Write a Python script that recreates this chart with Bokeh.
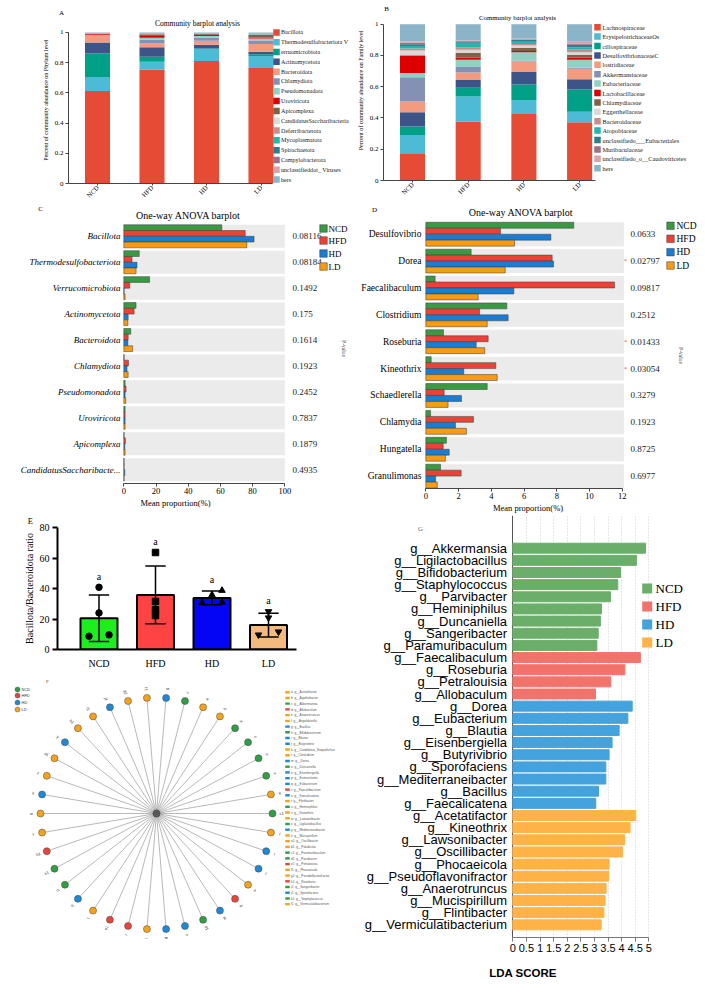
import math
from bokeh.plotting import figure
from bokeh.layouts import column, row
from bokeh.models import (Range1d, FixedTicker, Grid, ColumnDataSource, CustomJSTickFormatter)
from bokeh.core.properties import value
from bokeh.embed import file_html
from bokeh.resources import INLINE

SERIF = "Liberation Serif"
SANS = "Liberation Sans"

groups = ["NCD", "HFD", "HD", "LD"]

# ---------------- Panel A: phylum level composition ----------------
phylum_labels = ["Bacillota", "Thermodesulfobacteriota V", "erruomicrobiota", "Actinomycetota",
                 "Bacteroidota", "Chlamydiota", "Pseudomonadota", "Uroviricota", "Apicomplexa",
                 "CandidatusSaccharibacteria", "Deferribacterota", "Mycoplasmatota", "Spirochaetota",
                 "Campylobacterota", "unclassifieddot_ Viruses", "hers"]
phylum_ncd = [0.612, 0.093, 0.156, 0.073, 0.048, 0.002, 0.001, 0.004, 0.000, 0.001, 0.001, 0.000, 0.001, 0.000, 0.001, 0.007]
phylum_hfd = [0.755, 0.051, 0.033, 0.062, 0.026, 0.025, 0.013, 0.011, 0.011, 0.002, 0.002, 0.001, 0.001, 0.001, 0.001, 0.005]
phylum_hd = [0.811, 0.079, 0.004, 0.024, 0.027, 0.022, 0.009, 0.009, 0.004, 0.001, 0.001, 0.001, 0.001, 0.001, 0.001, 0.005]
phylum_ld = [0.764, 0.080, 0.011, 0.017, 0.051, 0.024, 0.013, 0.007, 0.015, 0.002, 0.002, 0.002, 0.001, 0.001, 0.001, 0.009]
phylum_colors = ["#E64B35", "#4DBBD5", "#00A087", "#3C5488", "#F39B7F", "#8491B4", "#91D1C2", "#DC0000",
                 "#7E6148", "#D9D9D9", "#C5908C", "#26B5AD", "#2E7D8C", "#9B7086", "#D8A3AA", "#8CB4C9"]

# ---------------- Panel B: family level composition ----------------
family_labels = ["Lachnospiraceae", "ErysipelotrichaceaeOs", "cillospiraceae", "DesulfovibrionaceaeC",
                 "lostridiaceae", "Akkermansiaceae", "Eubacteriaceae", "Lactobacillaceae", "Chlamydiaceae",
                 "Eggerthellaceae", "Bacteroidaceae", "Atopobiaceae", "unclassifiedo___Eubacteriales",
                 "Muribaculaceae", "unclassifiedo_o__Caudoviricetes", "hers"]
family_ncd = [0.174, 0.117, 0.054, 0.091, 0.070, 0.154, 0.027, 0.113, 0.002, 0.030, 0.013, 0.015, 0.012, 0.009, 0.010, 0.109]
family_hfd = [0.377, 0.161, 0.056, 0.049, 0.048, 0.035, 0.046, 0.013, 0.032, 0.019, 0.017, 0.028, 0.008, 0.005, 0.004, 0.102]
family_hd = [0.426, 0.089, 0.100, 0.079, 0.068, 0.004, 0.055, 0.007, 0.021, 0.015, 0.010, 0.013, 0.013, 0.004, 0.005, 0.091]
family_ld = [0.372, 0.068, 0.143, 0.064, 0.068, 0.006, 0.051, 0.013, 0.019, 0.017, 0.015, 0.015, 0.017, 0.009, 0.010, 0.113]
family_colors = ["#E64B35", "#4DBBD5", "#00A087", "#3C5488", "#F39B7F", "#8491B4", "#91D1C2", "#DC0000",
                 "#7E6148", "#D9D9D9", "#C5908C", "#26B5AD", "#2E7D8C", "#9B7086", "#D8A3AA", "#8CB4C9"]
comp_yticks = [0, 0.2, 0.4, 0.6, 0.8, 1]

# ---------------- Panel C: ANOVA phylum ----------------
c_taxa = ["Bacillota", "Thermodesulfobacteriota", "Verrucomicrobiota", "Actinomycetota", "Bacteroidota",
          "Chlamydiota", "Pseudomonadota", "Uroviricota", "Apicomplexa", "CandidatusSaccharibacte..."]
c_ncd = [60.9, 9.6, 16.0, 7.6, 4.3, 0.2, 0.8, 0.8, 0.2, 0.2]
c_hfd = [75.4, 5.1, 3.7, 6.4, 2.7, 2.9, 1.4, 0.8, 1.0, 0.2]
c_hd = [80.9, 8.2, 0.2, 2.7, 2.5, 2.0, 0.8, 0.8, 0.6, 0.6]
c_ld = [76.4, 7.6, 0.8, 2.5, 5.5, 2.7, 1.2, 0.8, 0.8, 0.2]
c_pvalues = [0.08116, 0.08184, 0.1492, 0.175, 0.1614, 0.1923, 0.2452, 0.7837, 0.1879, 0.4935]
c_xticks = [0, 20, 40, 60, 80, 100]

# ---------------- Panel D: ANOVA genus ----------------
d_taxa = ["Desulfovibrio", "Dorea", "Faecalibaculum", "Clostridium", "Roseburia", "Kineothrix",
          "Schaedlerella", "Chlamydia", "Hungatella", "Granulimonas"]
d_ncd = [9.04, 2.77, 0.57, 4.95, 1.08, 0.33, 3.75, 0.29, 1.26, 0.90]
d_hfd = [4.56, 7.72, 11.53, 3.28, 3.81, 4.28, 1.12, 2.91, 1.06, 2.16]
d_hd = [7.64, 7.80, 5.38, 5.03, 3.08, 2.32, 2.18, 1.81, 1.43, 0.60]
d_ld = [5.42, 4.85, 3.20, 3.75, 3.60, 4.36, 1.36, 2.48, 1.20, 0.70]
d_pvalues = [0.0633, 0.02797, 0.09817, 0.2512, 0.01433, 0.03054, 0.3279, 0.1923, 0.8725, 0.6977]
d_xticks = [0, 2, 4, 6, 8, 10, 12]
anova_colors = ["#3A9A44", "#EB4137", "#1A7DD2", "#F59B14"]

# ---------------- Panel E: Bacillota/Bacteroidota ratio ----------------
e_mean = [20.5, 35.8, 33.8, 16.0]
e_sd = [15.3, 18.9, 4.5, 7.8]
e_points = [[40.8, 24.0, 8.7, 9.6], [63.6, 31.5, 26.0, 22.3], [38.7, 35.8, 30.6, 31.0], [24.9, 20.8, 9.6, 11.6]]
e_jitter = [[0, 0, -1, 1], [0, 0, 0, 0], [1, 0, -1, 1], [0, 0, -1, 1]]
e_letters = ["a", "a", "a", "a"]
e_yticks = [0, 20, 40, 60, 80]
e_colors = ["#1EEE1E", "#FF4343", "#0505F5", "#F4B97C"]
e_markers = ["circle", "square", "triangle", "inverted_triangle"]

# ---------------- Panel F: cladogram-like ring ----------------
f_taxa = ["g__Acetatifactor", "g__Agathobacter", "g__Akkermansia", "g__Allobaculum", "g__Anaerotruncus",
          "g__Angelakisella", "g__Bacillus", "g__Bifidobacterium", "g__Blautia", "g__Butyrivibrio",
          "g__Candidatus_Stoquefichus", "g__Clostridium", "g__Dorea", "g__Duncaniella", "g__Eisenbergiella",
          "g__Enterocloster", "g__Eubacterium", "g__Faecalibaculum", "g__Faecalicatena", "g__Flintibacter",
          "g__Heminiphilus", "g__Kineothrix", "g__Lawsonibacter", "g__Ligilactobacillus",
          "g__Mediterraneibacter", "g__Mucispirillum", "g__Oscillibacter", "g__Paludicola",
          "g__Paramuribaculum", "g__Parvibacter", "g__Petralouisia", "g__Phocaeicola",
          "g__Pseudoflavonifractor", "g__Roseburia", "g__Sangeribacter", "g__Sporofaciens",
          "g__Staphylococcus", "g__Vermiculatibacterium"]
f_taxa_groups = ["LD", "LD", "NCD", "HFD", "LD", "LD", "HD", "NCD", "HD", "HD",
                 "LD", "LD", "HD", "NCD", "HD", "HD", "HD", "HFD", "HD", "LD",
                 "NCD", "LD", "LD", "NCD", "HD", "LD", "LD", "LD", "NCD", "NCD",
                 "HFD", "LD", "LD", "HFD", "NCD", "HD", "NCD", "LD"]
f_ring_groups = ["HD", "NCD", "LD", "LD", "NCD", "NCD", "NCD", "NCD", "LD", "NCD",
                 "LD", "HD", "HD", "LD", "HFD", "HD", "NCD", "HD", "HD", "LD",
                 "HFD", "HFD", "LD", "HD", "NCD", "NCD", "HFD", "LD", "LD", "HD",
                 "LD", "LD", "HD", "LD", "LD", "HD", "LD", "LD"]
f_colors = {"NCD": "#2F9E44", "HFD": "#E8453C", "HD": "#1F88D8", "LD": "#F7A21B"}

# ---------------- Panel G: LDA scores ----------------
g_genus = ["g__Akkermansia", "g__Ligilactobacillus", "g__Bifidobacterium", "g__Staphylococcus",
           "g__Parvibacter", "g__Heminiphilus", "g__Duncaniella", "g__Sangeribacter", "g__Paramuribaculum",
           "g__Faecalibaculum", "g__Roseburia", "g__Petralouisia", "g__Allobaculum",
           "g__Dorea", "g__Eubacterium", "g__Blautia", "g__Eisenbergiella", "g__Butyrivibrio",
           "g__Sporofaciens", "g__Mediterraneibacter", "g__Bacillus", "g__Faecalicatena",
           "g__Acetatifactor", "g__Kineothrix", "g__Lawsonibacter", "g__Oscillibacter", "g__Phocaeicola",
           "g__Pseudoflavonifractor", "g__Anaerotruncus", "g__Mucispirillum", "g__Flintibacter",
           "g__Vermiculatibacterium"]
g_group = ["NCD"] * 9 + ["HFD"] * 4 + ["HD"] * 9 + ["LD"] * 10
g_lda = [4.88, 4.55, 3.96, 3.86, 3.59, 3.26, 3.22, 3.14, 3.09,
         4.69, 4.12, 3.60, 3.04,
         4.39, 4.23, 3.91, 3.65, 3.54, 3.42, 3.42, 3.15, 3.05,
         4.52, 4.31, 4.11, 4.03, 3.54, 3.52, 3.43, 3.39, 3.35, 3.25]
g_xticks = [0, 0.5, 1, 1.5, 2, 2.5, 3, 3.5, 4, 4.5, 5]
g_colors = {"NCD": "#6AAE6A", "HFD": "#F2736C", "HD": "#44A2DC", "LD": "#FFB347"}


def lin(p0, v0, s, flip=False):
    if flip:
        return lambda px: v0 + (p0 - px) / s
    return lambda px: v0 + (px - p0) / s


def make_fig(w, h, fx, fy, left=0, right=0, top=0, bottom=0, xloc="below", yloc="left"):
    p = figure(width=w, height=h,
               x_range=Range1d(fx(left), fx(w - right)),
               y_range=Range1d(fy(h - bottom), fy(top)),
               output_backend="svg", toolbar_location=None,
               x_axis_location=xloc, y_axis_location=yloc,
               min_border_left=left, min_border_right=right,
               min_border_top=top, min_border_bottom=bottom)
    p.outline_line_color = None
    p.grid.visible = False
    p.background_fill_color = "white"
    p.border_fill_color = "white"
    return p


def set_letter(p, letter, offset, size, valign):
    p.title.text = letter
    p.title.align = "left"
    p.title.offset = offset
    p.title.text_font = SERIF
    p.title.text_font_size = size
    p.title.text_font_style = "normal"
    p.title.text_color = "black"
    p.title.standoff = 0
    p.title.vertical_align = valign


def style_axis(ax, size, font=SERIF, color="#444"):
    ax.axis_line_color = color
    ax.major_tick_line_color = color
    ax.minor_tick_line_color = None
    ax.major_label_text_font = font
    ax.major_label_text_font_size = size
    ax.major_label_text_color = "black"
    ax.axis_label_text_font = font
    ax.axis_label_text_font_style = "normal"
    ax.axis_label_text_color = "black"


def txt(p, xs, ys, texts, size, font=SERIF, align="left", color="black", style="normal", angle=0.0):
    p.text(x=xs, y=ys, text=texts, text_font=value(font), text_font_size=size,
           text_align=align, text_baseline="middle", text_color=color, text_font_style=style,
           angle=angle)


def composition_panel(w, h, left, top, bottom, fx, fy, labels, series, colors, bar_w, title, title_xy,
                      title_size, ylabel, leg_x, leg_tx, leg_y0, leg_dy, leg_size):
    p = make_fig(w, h, fx, fy, left=left, top=top, bottom=bottom)
    data = {"x": list(range(len(groups)))}
    keys = []
    for j in range(len(labels)):
        k = "t%d" % j
        keys.append(k)
        data[k] = [s[j] for s in series]
    p.vbar_stack(keys, x="x", width=bar_w, color=colors, source=ColumnDataSource(data), line_color=None)
    ys = [fy(leg_y0 + k * leg_dy) for k in range(len(labels))]
    p.scatter(x=[fx(leg_x)] * len(labels), y=ys, marker="square", size=6.5, color=colors, line_color=None)
    txt(p, [fx(leg_tx)] * len(labels), ys, labels, leg_size, color="#222")
    txt(p, [fx(title_xy[0])], [fy(title_xy[1])], [title], title_size, align="center")
    style_axis(p.yaxis[0], "7px")
    p.yaxis.ticker = FixedTicker(ticks=comp_yticks)
    p.yaxis.formatter = CustomJSTickFormatter(code="return tick.toString();")
    p.yaxis.bounds = (0, 1)
    p.yaxis.major_tick_out = 3
    p.yaxis.major_tick_in = 0
    p.yaxis.major_label_standoff = 2
    p.yaxis.axis_label = ylabel
    p.yaxis.axis_label_text_font_size = "6px"
    p.yaxis.axis_label_standoff = 3
    style_axis(p.xaxis[0], "6.5px")
    p.xaxis.ticker = FixedTicker(ticks=list(range(len(groups))))
    p.xaxis.major_label_overrides = {i: g for i, g in enumerate(groups)}
    p.xaxis.major_label_orientation = math.pi / 4
    p.xaxis.major_tick_out = 2
    p.xaxis.major_tick_in = 0
    p.xaxis.major_label_standoff = 1
    return p


# ===== Panel A =====
A_W, A_H, A_L, A_T, A_B = 350, 204, 68, 16, 20
ax_ = lin(97, 0, 54.5)
ay_ = lin(184, 0, 152, True)
pA = composition_panel(A_W, A_H, A_L, A_T, A_B, ax_, ay_, phylum_labels,
                       [phylum_ncd, phylum_hfd, phylum_hd, phylum_ld], phylum_colors, 0.46,
                       "Community barplot analysis", (197, 23), "7.5px",
                       "Percent of community abundance on Phylum level", 276, 280.5, 32, 9.87, "6.1px")
pA.xaxis.bounds = (ax_(68), ax_(272))
set_letter(pA, "A", -9.5, "7px", "bottom")

# ===== Panel B =====
B_W, B_H, B_L, B_B = 355, 204, 33, 24
bx_ = lin(62, 0, 55.7)
by_ = lin(180, 0, 156.3, True)
pB = composition_panel(B_W, B_H, B_L, 0, B_B, bx_, by_, family_labels,
                       [family_ncd, family_hfd, family_hd, family_ld], family_colors, 0.45,
                       "Community barplot analysis", (167, 16.7), "6.8px",
                       "Percent of community abundance on Family level", 247, 252, 26.7, 9.4, "6.3px")
pB.xaxis.bounds = (bx_(33), bx_(245))
txt(pB, [bx_(36)], [by_(8)], ["B"], "7px", align="center")


def anova_panel(w, h, bottom, fx, fy, taxa, series, pvals, xticks, band_max, label_x, label_size,
                italic, p_x, star_x, leg_x, leg_tx, leg_ys, leg_size, title_xy, letter_xy, pv_xy):
    p = make_fig(w, h, fx, fy, bottom=bottom, yloc=None)
    n = len(taxa)
    centers = [n - 1 - i for i in range(n)]
    p.hbar(y=centers, left=0, right=band_max, height=0.89, color="#EBEBEB", line_color=None)
    offsets = [0.333, 0.111, -0.111, -0.333]
    for k, s in enumerate(series):
        p.hbar(y=[c + offsets[k] for c in centers], left=0, right=s, height=0.222,
               fill_color=anova_colors[k], line_color="#3A3A3A", line_width=0.5)
    txt(p, [fx(label_x)] * n, centers, taxa, label_size, align="right", style="italic" if italic else "normal")
    txt(p, [fx(p_x)] * n, centers, [str(v) for v in pvals], "9px", color="#222")
    stars = [c for c, v in zip(centers, pvals) if v < 0.05]
    txt(p, [fx(star_x)] * len(stars), stars, ["*"] * len(stars), "6px", color="#E8453C", align="center")
    lys = [fy(v) for v in leg_ys]
    p.scatter(x=[fx(leg_x)] * 4, y=lys, marker="square", size=7.5, fill_color=anova_colors,
              line_color="#3A3A3A", line_width=0.5)
    txt(p, [fx(leg_tx)] * 4, lys, groups, leg_size)
    txt(p, [fx(title_xy[0])], [fy(title_xy[1])], ["One-way ANOVA barplot"], "10px", align="center")
    txt(p, [fx(letter_xy[0])], [fy(letter_xy[1])], [letter_xy[2]], "7px", align="center")
    txt(p, [fx(pv_xy[0])], [fy(pv_xy[1])], ["P-value"], "5.5px", align="center", color="#444",
        angle=-math.pi / 2)
    style_axis(p.xaxis[0], "8.5px")
    p.xaxis.ticker = FixedTicker(ticks=xticks)
    p.xaxis.bounds = (xticks[0], xticks[-1])
    p.xaxis.major_tick_out = 3
    p.xaxis.major_tick_in = 0
    p.xaxis.major_label_standoff = 1
    p.xaxis.axis_label = "Mean proportion(%)"
    p.xaxis.axis_label_text_font_size = "8.5px"
    p.xaxis.axis_label_standoff = 1
    return p


# ===== Panel C =====
C_W, C_H, C_B = 350, 311, 32
cx_ = lin(123.3, 0, 1.61)
cy_ = lin(31.8, 9, 25.93, True)
pC = anova_panel(C_W, C_H, C_B, cx_, cy_, c_taxa, [c_ncd, c_hfd, c_hd, c_ld], c_pvalues, c_xticks,
                 100, 120, "9px", True, 292, 288, 323, 328, [24, 36, 49, 62], "9px", (188, 11),
                 (40, 4, "C"), (343.5, 144))

# ===== Panel D =====
D_W, D_H, D_B = 355, 311, 27
dx_ = lin(75.3, 0, 16.37)
dy_ = lin(29.7, 9, 26.88, True)
pD = anova_panel(D_W, D_H, D_B, dx_, dy_, d_taxa, [d_ncd, d_hfd, d_hd, d_ld], d_pvalues, d_xticks,
                 12.1, 71, "9.5px", False, 280, 275, 320, 326, [21.3, 34.3, 47.7, 61], "9.5px",
                 (170.7, 7.7), (24, 5, "D"), (330, 151))

# ===== Panel E =====
E_W, E_H, E_L, E_R, E_T, E_B = 340, 160, 57, 40, 12, 26
ex_ = lin(98.5, 0, 56.5)
ey_ = lin(134, 0, 1.525, True)
pE = make_fig(E_W, E_H, ex_, ey_, left=E_L, right=E_R, top=E_T, bottom=E_B)
xs = list(range(len(groups)))
pE.vbar(x=xs, top=e_mean, width=0.655, fill_color=e_colors, line_color="black", line_width=2)
up = [m + s for m, s in zip(e_mean, e_sd)]
lo = [m - s for m, s in zip(e_mean, e_sd)]
pE.segment(x0=xs, y0=lo, x1=xs, y1=up, line_color="black", line_width=1.5)
cap = 0.18
pE.segment(x0=[x - cap for x in xs], y0=up, x1=[x + cap for x in xs], y1=up, line_color="black", line_width=1.5)
pE.segment(x0=[x - cap for x in xs], y0=lo, x1=[x + cap for x in xs], y1=lo, line_color="black", line_width=1.5)
jit = 0.177
for k in range(len(groups)):
    pE.scatter(x=[k + j * jit for j in e_jitter[k]], y=e_points[k], marker=e_markers[k], size=6.5,
               color="black")
letter_y = [max(u, max(pts)) + 7 for u, pts in zip(up, e_points)]
txt(pE, xs, letter_y, e_letters, "10px", align="center")
style_axis(pE.yaxis[0], "10px", color="black")
pE.yaxis.ticker = FixedTicker(ticks=e_yticks)
pE.yaxis.formatter = CustomJSTickFormatter(code="return tick.toString();")
pE.yaxis.bounds = (0, 80)
pE.yaxis.axis_line_width = 2
pE.yaxis.major_tick_line_width = 2
pE.yaxis.major_tick_out = 5
pE.yaxis.major_tick_in = 0
pE.yaxis.major_label_standoff = 3
pE.yaxis.axis_label = "Bacillota/Bacteroidota ratio"
pE.yaxis.axis_label_text_font_size = "10px"
pE.yaxis.axis_label_standoff = 2
style_axis(pE.xaxis[0], "10px", color="black")
pE.xaxis.ticker = FixedTicker(ticks=xs)
pE.xaxis.major_label_overrides = {i: g for i, g in enumerate(groups)}
pE.xaxis.axis_line_width = 2
pE.xaxis.major_tick_line_color = None
pE.xaxis.major_tick_out = 0
pE.xaxis.major_label_standoff = 8
pE.xaxis.bounds = (ex_(57), ex_(296))
set_letter(pE, "E", -29.7, "8.5px", "top")

# ===== Panel F =====
F_W, F_H = 340, 317
fx_ = lin(0, 0, 1)
fy_ = lin(317, 0, 1, True)
pF = make_fig(F_W, F_H, fx_, fy_, xloc=None, yloc=None)
cxF, cyF, rF = 156, 179, 116
nF = len(f_ring_groups)
step = 2 * math.pi / nF
prefixes = [chr(97 + i) if i < 26 else chr(97 + i - 26) + "1" for i in range(len(f_taxa))]
queues = {g: [i for i, tg in enumerate(f_taxa_groups) if tg == g] for g in groups}
ring_idx = [queues[g].pop(0) for g in f_ring_groups]
angs = [step / 2 + k * step for k in range(nF)]
px = [cxF + rF * math.sin(a) for a in angs]
py = [cyF + rF * math.cos(a) for a in angs]
pF.segment(x0=[cxF] * nF, y0=[cyF] * nF, x1=px, y1=py, line_color="#8A8A8A", line_width=0.6)
pF.scatter(x=[cxF], y=[cyF], size=7, color="#333", alpha=0.6)
pF.scatter(x=px, y=py, size=7, fill_color=[f_colors[g] for g in f_ring_groups], line_color="#444",
           line_width=0.5)
lab_x = [cxF + (rF + 9) * math.sin(a) for a in angs]
lab_y = [cyF + (rF + 9) * math.cos(a) for a in angs]
lab_ang = [(math.pi / 2 - a) if math.sin(a) >= 0 else (math.pi / 2 - a + math.pi) for a in angs]
pF.text(x=lab_x, y=lab_y, text=[prefixes[i] for i in ring_idx], angle=lab_ang,
        text_font=value(SANS), text_font_size="4px", text_align="center", text_baseline="middle",
        text_color="#333")
lg_y = [fy_(v) for v in [14, 20, 27, 34]]
pF.scatter(x=[17] * 4, y=lg_y, size=5, fill_color=[f_colors[g] for g in groups], line_color="#444",
           line_width=0.4)
txt(pF, [21] * 4, lg_y, groups, "4px", font=SANS, color="#333")
txt(pF, [47], [fy_(6)], ["F"], "5px", color="#444", align="center")
ty = [fy_(16.7 + k * 5.73) for k in range(len(f_taxa))]
pF.rect(x=[287] * len(f_taxa), y=ty, width=4.5, height=2.4,
        color=[f_colors[g] for g in f_taxa_groups], line_color=None)
txt(pF, [290.5] * len(f_taxa), ty, ["%s: %s" % (pr, t) for pr, t in zip(prefixes, f_taxa)],
    "3.1px", font=SANS, color="#555")

# ===== Panel G =====
G_W, G_H, G_B = 365, 477, 55
gx_ = lin(172.3, 0, 27.2)
gy_ = lin(32.7, 31, 12.15, True)
pG = make_fig(G_W, G_H, gx_, gy_, bottom=G_B, yloc=None)
nG = len(g_genus)
gys = [nG - 1 - i for i in range(nG)]
dot_grid = Grid(dimension=0, ticker=FixedTicker(ticks=g_xticks[1:]), grid_line_color="#CFCFCF",
                grid_line_dash="1 2", grid_line_width=1, bounds=(gy_(422), nG - 0.5))
pG.add_layout(dot_grid)
pG.hbar(y=gys, left=0, right=g_lda, height=0.82, color=[g_colors[g] for g in g_group])
zero_grid = Grid(dimension=0, ticker=FixedTicker(ticks=[0]), grid_line_color="#555555",
                 grid_line_width=1, bounds=(gy_(422), nG - 0.5))
pG.add_layout(zero_grid)
txt(pG, [gx_(166.5)] * nG, gys, g_genus, "13px", font=SANS, align="right")
g_leg_y = [gy_(v) for v in [73, 91, 109, 127]]
pG.scatter(x=[gx_(306.7)] * 4, y=g_leg_y, marker="square", size=10,
           color=[g_colors[g] for g in groups], line_color=None)
txt(pG, [gx_(315)] * 4, g_leg_y, groups, "13px")
txt(pG, [gx_(80)], [gy_(13)], ["G"], "7px", color="#666", align="center")
style_axis(pG.xaxis[0], "11px", font=SANS, color="#777")
pG.xaxis.ticker = FixedTicker(ticks=g_xticks)
pG.xaxis.formatter = CustomJSTickFormatter(code="return tick.toString();")
pG.xaxis.bounds = (0, 5)
pG.xaxis.major_tick_out = 4
pG.xaxis.major_tick_in = 0
pG.xaxis.major_label_standoff = 2
pG.xaxis.axis_label = "LDA SCORE"
pG.xaxis.axis_label_text_font = SANS
pG.xaxis.axis_label_text_font_style = "bold"
pG.xaxis.axis_label_text_font_size = "11.5px"
pG.xaxis.axis_label_standoff = 12


def solo(p):
    return column(p)


layout = column(row(solo(pA), solo(pB)),
                row(solo(pC), solo(pD)),
                row(column(solo(pE), solo(pF)), solo(pG)))

with open("out.html", "w") as fh:
    fh.write(file_html(layout, INLINE))
